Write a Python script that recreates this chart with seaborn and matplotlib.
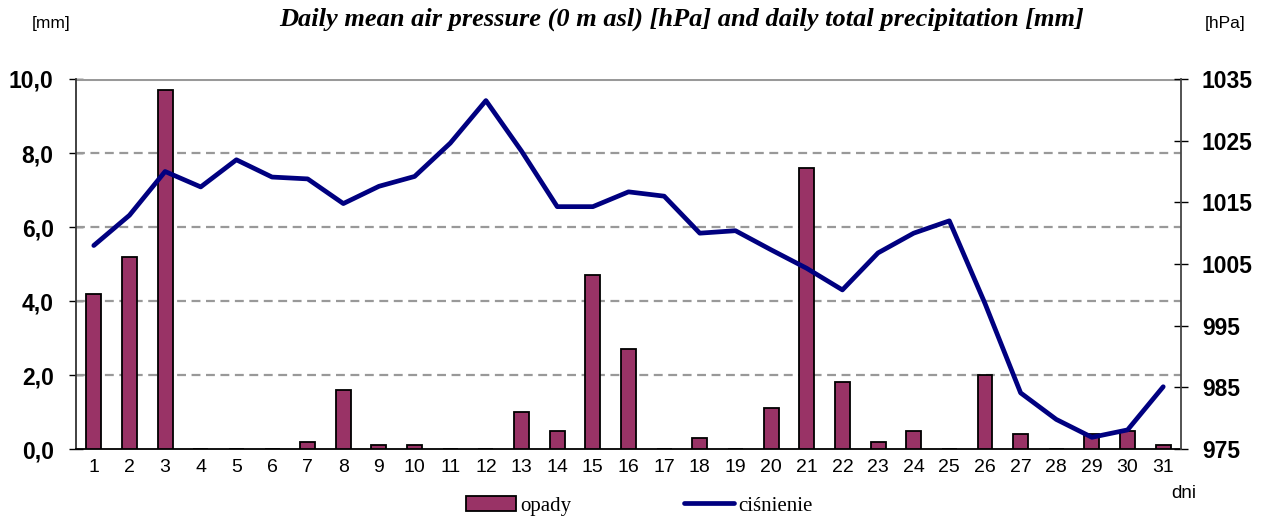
import numpy as np
import pandas as pd
import matplotlib
matplotlib.use("Agg")
import matplotlib.pyplot as plt
from matplotlib.patches import Patch
from matplotlib.lines import Line2D
from matplotlib.ticker import FixedLocator
import seaborn as sns

# daily data, days 1..31
days = list(range(1, 32))
opady = [4.2, 5.2, 9.7, 0.0, 0.0, 0.0, 0.2, 1.6, 0.1, 0.1,
         0.0, 0.0, 1.0, 0.5, 4.7, 2.7, 0.0, 0.3, 0.0, 1.1,
         7.6, 1.8, 0.2, 0.5, 0.0, 2.0, 0.4, 0.0, 0.4, 0.5, 0.1]
cisnienie = [1008.0, 1012.9, 1020.0, 1017.5, 1021.9, 1019.1, 1018.8, 1014.8, 1017.6, 1019.2,
             1024.6, 1031.5, 1023.3, 1014.3, 1014.3, 1016.7, 1016.0, 1010.0, 1010.4, 1007.3,
             1004.3, 1000.8, 1006.8, 1010.0, 1012.0, 998.6, 984.1, 979.8, 976.9, 978.1, 985.1]

df = pd.DataFrame({"dzien": days, "opady": opady, "cisnienie": cisnienie})
df["pos"] = df.index

bar_color = "#993366"
line_color = "#000080"

sns.set_theme(style="white")
plt.rcParams["font.family"] = ["Liberation Sans", "DejaVu Sans"]
plt.rcParams["text.color"] = "black"

fig = plt.figure(figsize=(12.66, 5.17), dpi=100)
ax = fig.add_axes([0.060, 0.1315, 0.8729, 0.7157])

sns.barplot(data=df, x="dzien", y="opady", color=bar_color, saturation=1,
            width=0.42, edgecolor="black", linewidth=1.3, ax=ax, zorder=3)

ax.set_xlim(-0.5, len(days) - 0.5)
ax.set_ylim(0, 10)
ax.set_yticks(np.arange(0, 10.1, 2))
ax.set_yticklabels([f"{v:.1f}".replace(".", ",") for v in np.arange(0, 10.1, 2)],
                   fontsize=16.5, fontweight="bold")
ax.set_xticks(df["pos"])
ax.set_xticklabels([str(d) for d in days], fontsize=14)
ax.xaxis.set_minor_locator(FixedLocator(np.arange(-0.5, len(days), 1.0)))
ax.tick_params(axis="x", which="major", length=0, pad=7, colors="black")
ax.tick_params(axis="x", which="minor", length=10, width=1, direction="inout", color="black")
ax.tick_params(axis="y", length=10, width=1, direction="inout", colors="black", pad=11)
ax.set_xlabel("")
ax.set_ylabel("")

for v in [2, 4, 6, 8]:
    ax.axhline(v, color="#999999", linestyle=(0, (4, 2.5)), linewidth=1.6, zorder=1)
ax.axhline(10, color="#999999", linewidth=2.2, zorder=1)

ax.spines["top"].set_visible(False)
ax.spines["left"].set_color("#333333")
ax.spines["left"].set_linewidth(1.3)
ax.spines["bottom"].set_color("black")
ax.spines["bottom"].set_linewidth(1.3)
ax.spines["right"].set_visible(False)

ax2 = ax.twinx()
sns.lineplot(data=df, x="pos", y="cisnienie", color=line_color, linewidth=3.4, ax=ax2, zorder=4)
ax2.set_ylim(975, 1035)
ax2.set_yticks(np.arange(975, 1036, 10))
ax2.set_yticklabels([str(v) for v in range(975, 1036, 10)], fontsize=16.5, fontweight="bold")
ax2.tick_params(axis="y", length=10, width=1, direction="inout", colors="black", pad=10)
ax2.set_xlabel("")
ax2.set_ylabel("")
for side in ["top", "left", "bottom"]:
    ax2.spines[side].set_visible(False)
ax2.spines["right"].set_color("#444444")
ax2.spines["right"].set_linewidth(1.3)
ax2.set_xlim(-0.5, len(days) - 0.5)

fig.text(0.538, 0.962, "Daily mean air pressure (0 m asl) [hPa] and daily total precipitation [mm]",
         ha="center", va="center", fontsize=19, fontweight="bold", fontstyle="italic",
         family="Liberation Serif", color="black")
fig.text(0.040, 0.955, "[mm]", ha="center", va="center", fontsize=12.5, color="black")
fig.text(0.968, 0.955, "[hPa]", ha="center", va="center", fontsize=12.5, color="black")
fig.text(0.935, 0.045, "dni", ha="center", va="center", fontsize=13.5, color="black")

handles = [Patch(facecolor=bar_color, edgecolor="black", linewidth=1.3),
           Line2D([0], [0], color=line_color, linewidth=3.4)]
fig.legend(handles, ["opady", "ciśnienie"], loc="center", bbox_to_anchor=(0.505, 0.022),
           ncol=2, frameon=False, handlelength=2.4, handleheight=0.8, handletextpad=0.2,
           columnspacing=5.4, labelcolor="black",
           prop={"family": "Liberation Serif", "size": 15})

fig.savefig("out.png", dpi=100)
